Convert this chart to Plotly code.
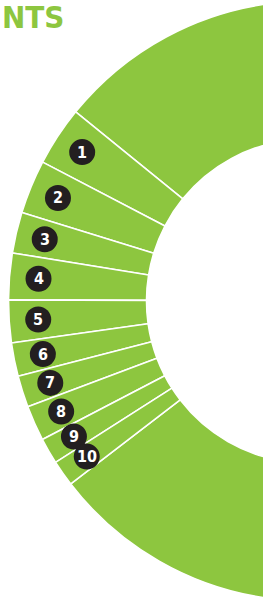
import math
import plotly.graph_objects as go

# ---- data ----
labels = ["Other", "1", "2", "3", "4", "5", "6", "7", "8", "9", "10"]
values = [78.7, 3.2, 2.9, 2.2, 2.5, 2.3, 1.8, 1.7, 1.9, 1.4, 1.4]
badge_labels = ["1", "2", "3", "4", "5", "6", "7", "8", "9", "10"]
title_text = "NTS"

# ---- style / geometry ----
GREEN = "#8DC63F"
W, H = 617, 602
DOM_Y = [1 / H, 1 - 1 / H]
HOLE = 0.54
START_CLOCK = -50.9          # clock angle (deg, clockwise from 12) where slice "1" starts
LABEL_R = 0.903              # badge radius as fraction of the pie radius
BADGE_D = 26                 # badge diameter in px

fig = go.Figure()
fig.add_trace(go.Pie(
    labels=labels,
    values=values,
    sort=False,
    direction="counterclockwise",
    rotation=START_CLOCK,
    hole=HOLE,
    marker=dict(colors=[GREEN] * len(values), line=dict(color="white", width=1.6)),
    textinfo="none",
    hoverinfo="label+value",
    showlegend=False,
    domain=dict(x=[0, 1], y=DOM_Y),
))

# pie geometry in pixels (same rule plotly uses: radius = half the smaller domain side)
dom_h = H * (DOM_Y[1] - DOM_Y[0])
R = min(W, dom_h) / 2
cx = W / 2
cy = H * (1 - (DOM_Y[0] + DOM_Y[1]) / 2)

total = sum(values)
start_math = 90 - START_CLOCK     # math angle (ccw from +x) of slice 1 start
cum = 0.0
shapes = []
annotations = []
for lab, v in zip(badge_labels, values[1:]):
    mid = start_math + 360 * (cum + v / 2) / total
    cum += v
    px = cx + LABEL_R * R * math.cos(math.radians(mid))
    py = cy - LABEL_R * R * math.sin(math.radians(mid))
    r = BADGE_D / 2
    shapes.append(dict(type="circle", xref="paper", yref="paper",
                       x0=(px - r) / W, x1=(px + r) / W,
                       y0=1 - (py + r) / H, y1=1 - (py - r) / H,
                       fillcolor="#231F20", line=dict(width=0), layer="above"))
    annotations.append(dict(x=px / W, y=1 - py / H, xref="paper", yref="paper",
                            text=f"<b>{lab}</b>", showarrow=False,
                            xanchor="center", yanchor="middle",
                            font=dict(family="DejaVu Sans Condensed", size=16, color="white")))

annotations.append(dict(x=0, y=1, xref="paper", yref="paper", text=f"<b>{title_text}</b>",
                        showarrow=False, xanchor="left", yanchor="top",
                        xshift=0, yshift=3,
                        font=dict(family="DejaVu Sans Condensed", size=31, color=GREEN)))

fig.update_layout(
    width=W, height=H,
    margin=dict(l=0, r=0, t=0, b=0),
    paper_bgcolor="white", plot_bgcolor="white",
    shapes=shapes, annotations=annotations,
)

fig.write_html("out.html",
               post_script="document.body.style.margin='0';document.body.style.overflow='hidden';")
